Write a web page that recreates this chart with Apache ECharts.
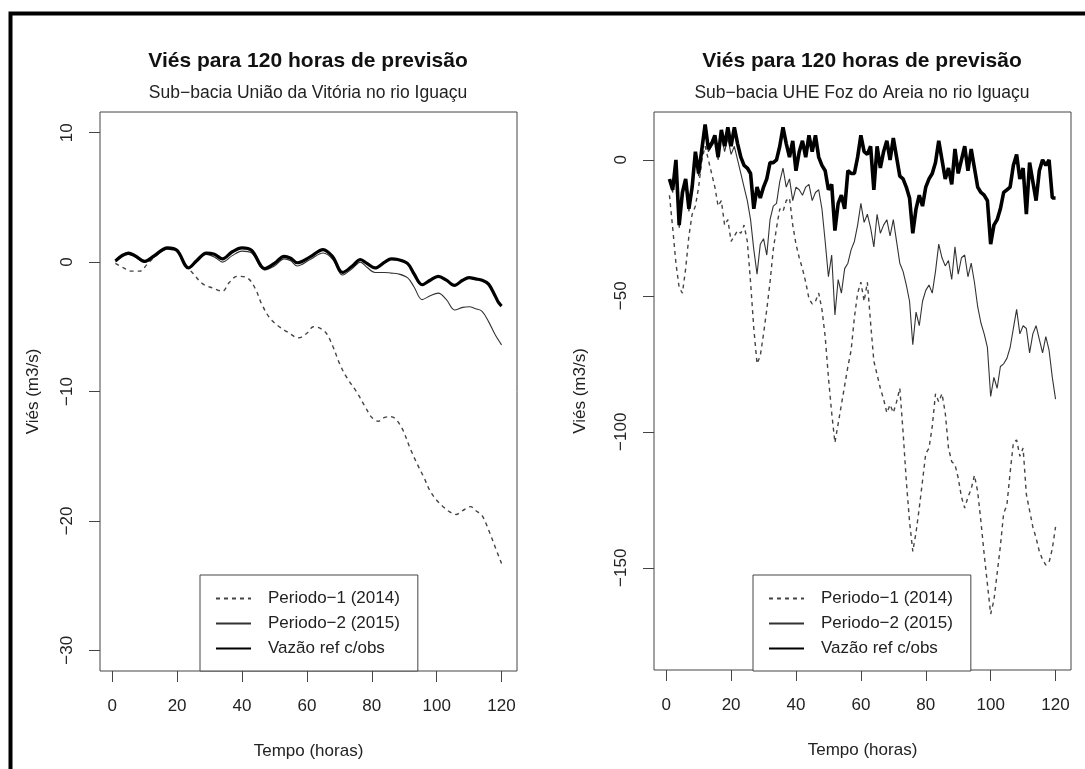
<!DOCTYPE html>
<html>
<head>
<meta charset="utf-8">
<script src="https://cdn.jsdelivr.net/npm/echarts@6/dist/echarts.min.js"></script>
<style>
html,body{margin:0;padding:0;background:#fff;}
#chart{width:1085px;height:769px;}
</style>
</head>
<body>
<div id="chart"></div>
<script>
// ---------- DATA ----------
const seriesNames = ['Periodo\u22121 (2014)', 'Periodo\u22122 (2015)', 'Vaz\u00e3o ref c/obs'];
const titleText = 'Vi\u00e9s para 120 horas de previs\u00e3o';
const subtitleLeft = 'Sub\u2212bacia Uni\u00e3o da Vit\u00f3ria no rio Igua\u00e7u';
const subtitleRight = 'Sub\u2212bacia UHE Foz do Areia no rio Igua\u00e7u';
const xTicks = [0, 20, 40, 60, 80, 100, 120];
const yTicksLeft = [-30, -20, -10, 0, 10];
const yTicksRight = [-150, -100, -50, 0];

// Left panel (União da Vitória)
const leftRefHours = [1,3,5,7,10,13,17,20,23.5,26,29,31.5,34,37,40,43,47,50,53,55,57,61,65,68,71,74,76.5,78.5,81,84,86,88,91,93,95.5,98,100.5,103,105.5,108,110,112,114,116,118,119,120];
const leftRefVals  = [0.1,0.5,0.7,0.5,0.05,0.5,1.1,0.9,-0.45,0.1,0.7,0.6,0.25,0.8,1.1,0.9,-0.5,-0.1,0.45,0.3,-0.05,0.4,0.97,0.4,-0.8,-0.3,0.2,-0.1,-0.45,0.0,0.25,0.2,-0.1,-0.9,-1.75,-1.4,-1.1,-1.4,-1.8,-1.4,-1.2,-1.3,-1.4,-1.7,-2.6,-3.1,-3.4];
const leftP2Hours  = [1,3,5,7,10,13,17,20,23.5,26,29,31.5,34,37,40,43,47,50,53,55,57,61,65,68,71,74,76.5,78.5,81,84,86,88,91,93,95.5,98,100.5,103,105.5,108,110,112,114,116,118,120];
const leftP2Vals   = [0.0,0.4,0.6,0.4,0.0,0.4,1.0,0.8,-0.5,0.0,0.6,0.4,0.0,0.5,0.85,0.7,-0.6,-0.3,0.25,0.1,-0.3,0.2,0.7,0.2,-1.0,-0.5,0.0,-0.4,-0.8,-0.8,-0.85,-0.9,-1.2,-1.9,-2.9,-2.6,-2.4,-2.9,-3.7,-3.5,-3.45,-3.6,-3.8,-4.6,-5.6,-6.4];
const leftP1Hours  = [1,3.5,6,8.5,11,14,17,20,22,25,28,31,34,36,38.5,41.5,44,46,48.5,51,54,57.5,60,62,64,66,68,70,72,75.5,78,80,82,84,86,89,92,94,96,98,100,102,104,106,108,110.5,112,114,116,118,120];
const leftP1Vals   = [-0.1,-0.45,-0.7,-0.7,-0.1,0.6,1.0,0.8,0.0,-0.9,-1.7,-2.0,-2.25,-1.6,-1.1,-1.2,-2.0,-3.2,-4.3,-4.9,-5.4,-5.85,-5.5,-5.0,-5.1,-5.5,-6.5,-7.8,-8.8,-10.1,-11.2,-12.0,-12.3,-12.0,-11.95,-12.7,-14.5,-15.6,-16.6,-17.7,-18.4,-18.9,-19.3,-19.5,-19.2,-18.9,-19.2,-19.6,-20.7,-22.0,-23.3];

// Right panel (UHE Foz do Areia), hourly values for hours 1..120
const rightRefVals = [-7,-11,0,-24,-12,-7,-18,-10,3,-5,4,13,4,6,9,1,11,5,12,5,12,6,1,-2,-3,-5,-18,-10,-14,-10,-7,-1,-1,0,5,12,6,1,7,-4,3,7,1,9,3,9,1,-2,-4,-11,-9,-26,-16,-13,-18,-4,-5,-5,1,9,3,2,5,-11,5,-3,3,7,0,8,1,-6,-7,-10,-14,-27,-18,-13,-17,-10,-7,-5,-1,7,0,-7,-3,-9,4,-5,0,5,-4,4,-3,-10,-12,-13,-15,-31,-24,-22,-18,-12,-11,-10,-2,2,-7,-3,-20,-1,-8,-15,-4,0,-2,0,-14,-14];
const rightP2Vals = [-8,-12,-1,-25,-13,-8,-19,-11,2,-6,3,12,3,5,7,0,9,3,8,2,5,0,-5,-10,-15,-22,-33,-42,-31,-29,-35,-22,-17,-16,-8,-3,-10,-7,-15,-10,-11,-13,-10,-9,-15,-12,-11,-18,-30,-43,-35,-57,-44,-49,-40,-38,-33,-30,-24,-16,-23,-20,-25,-32,-20,-27,-24,-22,-28,-22,-30,-38,-41,-46,-52,-68,-56,-61,-52,-48,-46,-49,-41,-31,-36,-39,-37,-44,-32,-42,-36,-35,-43,-38,-45,-54,-60,-64,-69,-87,-80,-84,-76,-75,-73,-69,-62,-55,-64,-61,-62,-71,-64,-61,-66,-71,-65,-70,-80,-88];
const rightP1Vals = [-13,-25,-38,-47,-49,-40,-28,-20,-17,-10,0,5,0,-5,-10,-17,-15,-24,-22,-30,-28,-26,-27,-24,-30,-45,-62,-75,-72,-64,-55,-45,-33,-25,-18,-19,-15,-14,-24,-31,-36,-40,-45,-51,-53,-52,-49,-55,-65,-80,-93,-104,-97,-90,-83,-76,-70,-58,-49,-45,-52,-45,-60,-74,-79,-84,-88,-93,-90,-93,-89,-84,-100,-118,-133,-144,-137,-128,-118,-108,-106,-98,-86,-89,-86,-93,-106,-111,-112,-117,-124,-128,-124,-121,-116,-122,-133,-145,-156,-167,-162,-152,-142,-130,-127,-115,-104,-103,-109,-106,-123,-129,-135,-139,-144,-147,-149,-148,-143,-135];
const rightHours = rightRefVals.map((_, i) => i + 1);

// ---------- CHART ----------
const FONT = '"Liberation Sans", Arial, Helvetica, sans-serif';
const pair = (xs, ys) => xs.map((x, i) => [x, ys[i]]);
const minusFmt = v => String(v).replace('-', '\u2212');

const chart = echarts.init(document.getElementById('chart'), null, {renderer: 'canvas'});

function xAxisCfg(gi) {
  return {
    type: 'value', gridIndex: gi, min: -3.76, max: 124.76,
    name: 'Tempo (horas)', nameLocation: 'middle', nameGap: 72,
    nameTextStyle: {fontFamily: FONT, fontSize: 17, color: '#222'},
    axisLine: {show: false, onZero: false},
    axisTick: {show: true, length: 11, lineStyle: {color: '#444', width: 1}, customValues: xTicks},
    axisLabel: {show: true, margin: 27, fontFamily: FONT, fontSize: 17, color: '#222', customValues: xTicks},
    splitLine: {show: false}
  };
}
function yAxisCfg(gi, min, max, ticks, nameGap) {
  return {
    type: 'value', gridIndex: gi, min: min, max: max,
    name: 'Vi\u00e9s (m3/s)', nameLocation: 'middle', nameGap: nameGap, nameRotate: 90,
    nameTextStyle: {fontFamily: FONT, fontSize: 17, color: '#222'},
    axisLine: {show: false, onZero: false},
    axisTick: {show: true, length: 11, lineStyle: {color: '#444', width: 1}, customValues: ticks},
    axisLabel: {show: true, rotate: 90, margin: 24, fontFamily: FONT, fontSize: 17, color: '#222', customValues: ticks, formatter: minusFmt},
    splitLine: {show: false}
  };
}
function legendCfg(left) {
  return {
    orient: 'vertical', left: left, top: 575,
    data: seriesNames,
    itemWidth: 35, itemHeight: 16, itemGap: 8,
    padding: [15, 18, 14, 15],
    borderColor: '#444', borderWidth: 1, borderRadius: 0,
    backgroundColor: '#fff',
    selectedMode: false,
    textStyle: {fontFamily: FONT, fontSize: 17, color: '#222', padding: [0, 0, 0, 12]},
    itemStyle: {opacity: 0}
  };
}
function lineSeries(name, gi, data, style, smooth) {
  return {
    name: name, type: 'line', xAxisIndex: gi, yAxisIndex: gi,
    data: data, symbol: 'none', showSymbol: false, smooth: smooth,
    lineStyle: style, animation: false, silent: true
  };
}

const dashed = {color: '#444', width: 1.4, type: [4, 4]};
const thin = {color: '#333', width: 1.1, type: 'solid'};
const thickL = {color: '#000', width: 3.2, type: 'solid'};
const thickR = {color: '#000', width: 3.6, type: 'solid'};

const option = {
  backgroundColor: '#fff',
  animation: false,
  title: [
    {text: titleText, left: 308, top: 51, textAlign: 'center', padding: 0,
     textStyle: {fontFamily: FONT, fontSize: 21, fontWeight: 'bold', color: '#111'}},
    {text: subtitleLeft, left: 308, top: 84, textAlign: 'center', padding: 0,
     textStyle: {fontFamily: FONT, fontSize: 17.5, fontWeight: 'normal', color: '#222'}},
    {text: titleText, left: 862, top: 51, textAlign: 'center', padding: 0,
     textStyle: {fontFamily: FONT, fontSize: 21, fontWeight: 'bold', color: '#111'}},
    {text: subtitleRight, left: 862, top: 84, textAlign: 'center', padding: 0,
     textStyle: {fontFamily: FONT, fontSize: 17.5, fontWeight: 'normal', color: '#222'}}
  ],
  grid: [
    {left: 100, top: 112, width: 417, height: 559, show: true, borderColor: '#444', borderWidth: 1, backgroundColor: 'transparent', containLabel: false},
    {left: 654, top: 112, width: 417, height: 558, show: true, borderColor: '#444', borderWidth: 1, backgroundColor: 'transparent', containLabel: false}
  ],
  xAxis: [xAxisCfg(0), xAxisCfg(1)],
  yAxis: [yAxisCfg(0, -31.6, 11.6, yTicksLeft, 58), yAxisCfg(1, -187.6, 17.6, yTicksRight, 65)],
  legend: [legendCfg(200), legendCfg(753)],
  series: [
    lineSeries(seriesNames[0], 0, pair(leftP1Hours, leftP1Vals), dashed, 0.35),
    lineSeries(seriesNames[1], 0, pair(leftP2Hours, leftP2Vals), thin, 0.35),
    lineSeries(seriesNames[2], 0, pair(leftRefHours, leftRefVals), thickL, 0.35),
    lineSeries(seriesNames[0], 1, pair(rightHours, rightP1Vals), dashed, false),
    lineSeries(seriesNames[1], 1, pair(rightHours, rightP2Vals), thin, false),
    lineSeries(seriesNames[2], 1, pair(rightHours, rightRefVals), thickR, false)
  ],
  graphic: [
    {type: 'rect', silent: true, z: 100,
     shape: {x: 10.5, y: 13.5, width: 1200, height: 900},
     style: {fill: 'none', stroke: '#000', lineWidth: 4}}
  ]
};
chart.setOption(option);
</script>
</body>
</html>
